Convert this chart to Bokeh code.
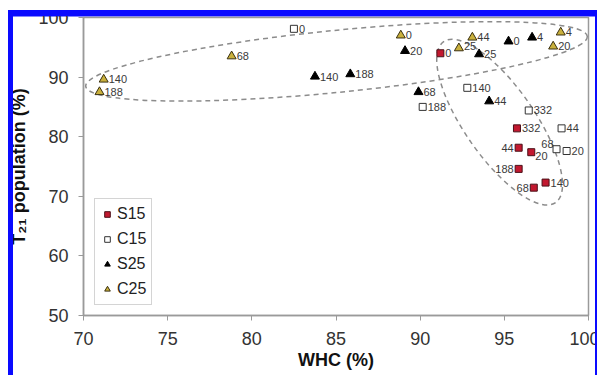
import math
from bokeh.plotting import figure
from bokeh.models import (Range1d, FixedTicker, Legend, LegendItem,
                          ColumnDataSource, InlineStyleSheet)
from bokeh.core.properties import value
from bokeh.embed import file_html
from bokeh.resources import INLINE

# ---------------- data ----------------
x_ticks = [70, 75, 80, 85, 90, 95, 100]
y_ticks = [50, 60, 70, 80, 90, 100]

s15_labels = ["0", "332", "44", "20", "188", "68", "140"]
s15_x = [91.2, 95.75, 95.85, 96.6, 95.85, 96.75, 97.45]
s15_y = [94.0, 81.4, 78.15, 77.4, 74.6, 71.45, 72.3]

c15_labels = ["0", "188", "140", "332", "44", "68", "20"]
c15_x = [82.5, 90.15, 92.8, 96.45, 98.4, 98.1, 98.7]
c15_y = [98.1, 85.0, 88.2, 84.4, 81.4, 77.9, 77.6]

s25_labels = ["0", "4", "20", "25", "44", "68", "140", "188"]
s25_x = [95.25, 96.65, 89.1, 93.5, 94.1, 89.9, 83.75, 85.85]
s25_y = [96.0, 96.65, 94.4, 93.85, 85.95, 87.5, 90.1, 90.5]

c25_labels = ["0", "4", "20", "25", "44", "68", "140", "188"]
c25_x = [88.85, 98.35, 97.9, 92.3, 93.1, 78.8, 71.2, 70.95]
c25_y = [97.0, 97.5, 95.15, 94.85, 96.65, 93.5, 89.6, 87.5]

# ---------------- style / annotation settings ----------------
FONT = "Liberation Sans"
GRAY = "#9a9a9a"

# label placement exceptions: (series, label) -> (align, dx, dy)
label_place = {
    ("S15", "44"): ("right", -5, 0),
    ("S15", "188"): ("right", -5, 0),
    ("S15", "68"): ("right", -5, 0),
    ("S15", "20"): ("left", 4, 4),
    ("C15", "68"): ("right", -3, -5),
    ("C25", "25"): ("left", 5, -2),
}

# dashed grouping ellipses (centre in data units, size in screen px, angle rad)
ell_cx = [85.03, 94.72]
ell_cy = [92.64, 82.44]
ell_w = [504, 196]
ell_h = [62, 70]
ell_a = [0.0995, -0.963]

BLUE = "#0a0aff"
css = f"""
:host {{
  background:
    linear-gradient({BLUE},{BLUE}) 8px 10px / 589px 6.5px no-repeat,
    linear-gradient({BLUE},{BLUE}) 8px 10px / 5px 365px no-repeat,
    linear-gradient({BLUE},{BLUE}) 595px 10px / 2px 365px no-repeat,
    white;
}}
:host::after {{
  content: ""; position: absolute; left: 8px; top: 10px; width: 589px; height: 365px;
  box-sizing: border-box; border-top: 6.5px solid {BLUE}; border-left: 5px solid {BLUE};
  border-right: 2px solid {BLUE}; pointer-events: none; z-index: 100;
}}
:host::before {{
  content: ""; position: absolute; left: 597px; top: 0px; width: 2px; height: 375px;
  background: white; pointer-events: none; z-index: 100;
}}
"""

p = figure(width=599, height=375, output_backend="svg", toolbar_location=None,
           x_range=Range1d(70, 100), y_range=Range1d(50, 100),
           min_border_left=83, min_border_right=11, min_border_top=17,
           min_border_bottom=60)
p.stylesheets = [InlineStyleSheet(css=css)]
p.background_fill_color = "white"
p.border_fill_color = None
p.outline_line_color = GRAY
p.outline_line_width = 1.5
p.xgrid.visible = False
p.ygrid.visible = False

for ax in (p.xaxis[0], p.yaxis[0]):
    ax.axis_line_color = GRAY
    ax.axis_line_width = 1.5
    ax.major_tick_line_color = GRAY
    ax.minor_tick_line_color = None
    ax.major_tick_in = 0
    ax.major_tick_out = 5
    ax.major_label_text_font = FONT
    ax.major_label_text_font_size = "18px"
    ax.major_label_text_color = "#333333"
    ax.axis_label_text_font = FONT
    ax.axis_label_text_font_size = "18px"
    ax.axis_label_text_font_style = "bold"
    ax.axis_label_text_color = "#111111"
p.xaxis.ticker = FixedTicker(ticks=x_ticks)
p.yaxis.ticker = FixedTicker(ticks=y_ticks)
p.xaxis.major_label_standoff = 11
p.yaxis.major_label_standoff = 10

p.yaxis.axis_label = "T\u2082\u2081 population (%)"
p.yaxis.axis_label_standoff = 6
p.xaxis.axis_label = "WHC (%)"
p.xaxis.axis_label_standoff = 2

# ellipses
p.ellipse(x="x", y="y", width="w", height="h", angle="a",
          source=ColumnDataSource(dict(x=ell_cx, y=ell_cy, w=ell_w, h=ell_h, a=ell_a)),
          width_units="screen", height_units="screen",
          fill_color=None, line_color="#8c8c8c", line_width=1.5, line_dash="5 4")

series = [
    ("S15", s15_x, s15_y, s15_labels, "square", 7, "#c2182f", "#4a1018"),
    ("C15", c15_x, c15_y, c15_labels, "square", 7, "white", "#333333"),
    ("S25", s25_x, s25_y, s25_labels, "triangle", 9, "black", "black"),
    ("C25", c25_x, c25_y, c25_labels, "triangle", 9, "#c9b03c", "#3a3010"),
]

items = []
for name, xs, ys, labs, marker, size, fill, line in series:
    r = p.scatter(xs, ys, marker=marker, size=size, fill_color=fill,
                  line_color=line, line_width=1)
    items.append(LegendItem(label=name, renderers=[r]))
    groups = {}
    for x, y, t in zip(xs, ys, labs):
        align, dx, dy = label_place.get((name, t), ("left", 5, 0))
        g = groups.setdefault((align, dx, dy), dict(x=[], y=[], t=[]))
        g["x"].append(x); g["y"].append(y); g["t"].append(t)
    for (align, dx, dy), g in groups.items():
        p.text(x="x", y="y", text="t", source=ColumnDataSource(g),
               x_offset=dx, y_offset=dy, text_align=align, text_baseline="middle",
               text_font=value(FONT), text_font_size="11px", text_color="#3a3a3a")

legend = Legend(items=items, location=(11, 10), padding=5, margin=0, spacing=5,
                glyph_width=14, glyph_height=20, label_height=20, label_standoff=3,
                label_text_font=FONT, label_text_font_size="16px",
                label_text_color="#222222",
                border_line_color="#aaaaaa", border_line_width=1,
                background_fill_color="white", background_fill_alpha=1)
p.add_layout(legend, "center")

open("out.html", "w").write(file_html(p, INLINE))
